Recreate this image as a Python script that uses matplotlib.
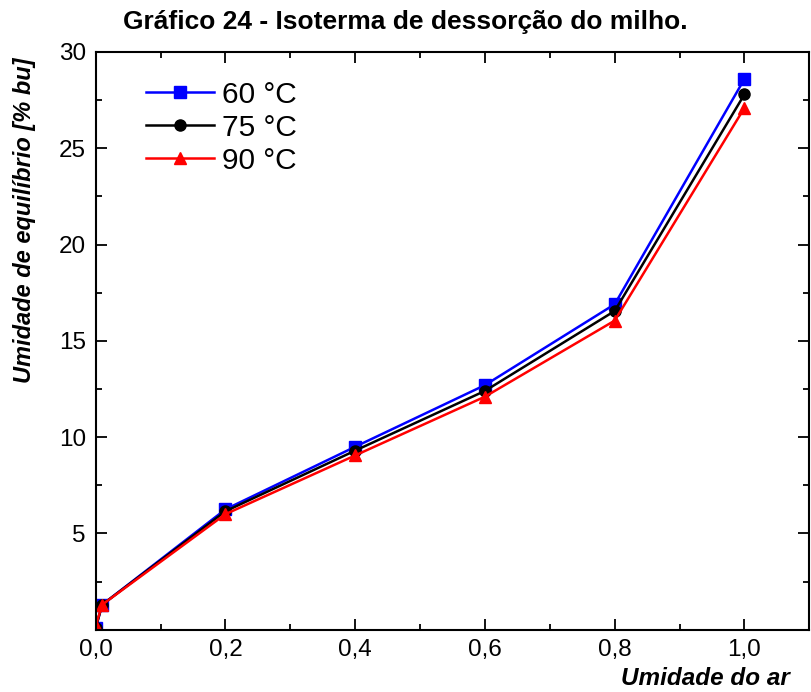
import matplotlib
matplotlib.use("Agg")
import matplotlib.pyplot as plt
from matplotlib.ticker import MultipleLocator, FuncFormatter

plt.rcParams['font.family'] = ['Liberation Sans', 'DejaVu Sans']

# dados
umid_ar = [0.0, 0.01, 0.2, 0.4, 0.6, 0.8, 1.0]
t60 = [0.1, 1.3, 6.25, 9.5, 12.7, 16.9, 28.6]
t75 = [0.1, 1.3, 6.15, 9.3, 12.4, 16.55, 27.8]
t90 = [0.2, 1.3, 6.0, 9.05, 12.1, 16.05, 27.1]

fig = plt.figure(figsize=(8.11, 6.92), dpi=100)
ax = fig.add_axes([0.118, 0.090, 0.88, 0.835])

ax.plot(umid_ar, t60, color="#0000ff", marker="s", markersize=8, lw=1.8, label="60 °C")
ax.plot(umid_ar, t75, color="black", marker="o", markersize=8, lw=1.8, label="75 °C")
ax.plot(umid_ar, t90, color="#ff0000", marker="^", markersize=9, lw=1.8, label="90 °C")

ax.set_xlim(0, 1.1)
ax.set_ylim(0, 30)
ax.xaxis.set_major_locator(MultipleLocator(0.2))
ax.xaxis.set_minor_locator(MultipleLocator(0.1))
ax.yaxis.set_major_locator(MultipleLocator(5))
ax.yaxis.set_minor_locator(MultipleLocator(2.5))
ax.xaxis.set_major_formatter(FuncFormatter(lambda v, p: f"{v:.1f}".replace(".", ",")))
ax.yaxis.set_major_formatter(FuncFormatter(lambda v, p: "" if v == 0 else f"{v:.0f}"))
ax.tick_params(which="both", direction="in", top=True, right=True, labelsize=17.5, width=1.3)
ax.tick_params(which="major", length=8, pad=7)
ax.tick_params(which="minor", length=4)
for s in ax.spines.values():
    s.set_linewidth(1.5)

ax.set_ylabel("Umidade de equilíbrio [% bu]", fontsize=17, fontweight="bold", style="italic")
ax.yaxis.set_label_coords(-0.083, 0.708)
ax.set_xlabel("Umidade do ar", fontsize=17.5, fontweight="bold", style="italic")
ax.xaxis.set_label_coords(0.972, -0.085)
ax.xaxis.label.set_horizontalalignment("right")
ax.xaxis.label.set_verticalalignment("center")

ax.legend(loc="upper left", bbox_to_anchor=(0.071, 0.95), frameon=False, fontsize=21.5,
          handlelength=2.27, handletextpad=0.27, labelspacing=0.17,
          borderpad=0, borderaxespad=0)

fig.suptitle("Gráfico 24 - Isoterma de dessorção do milho.", fontsize=19, fontweight="bold",
             x=0.5, y=0.986, va="top")

fig.savefig("out.png", dpi=100)
